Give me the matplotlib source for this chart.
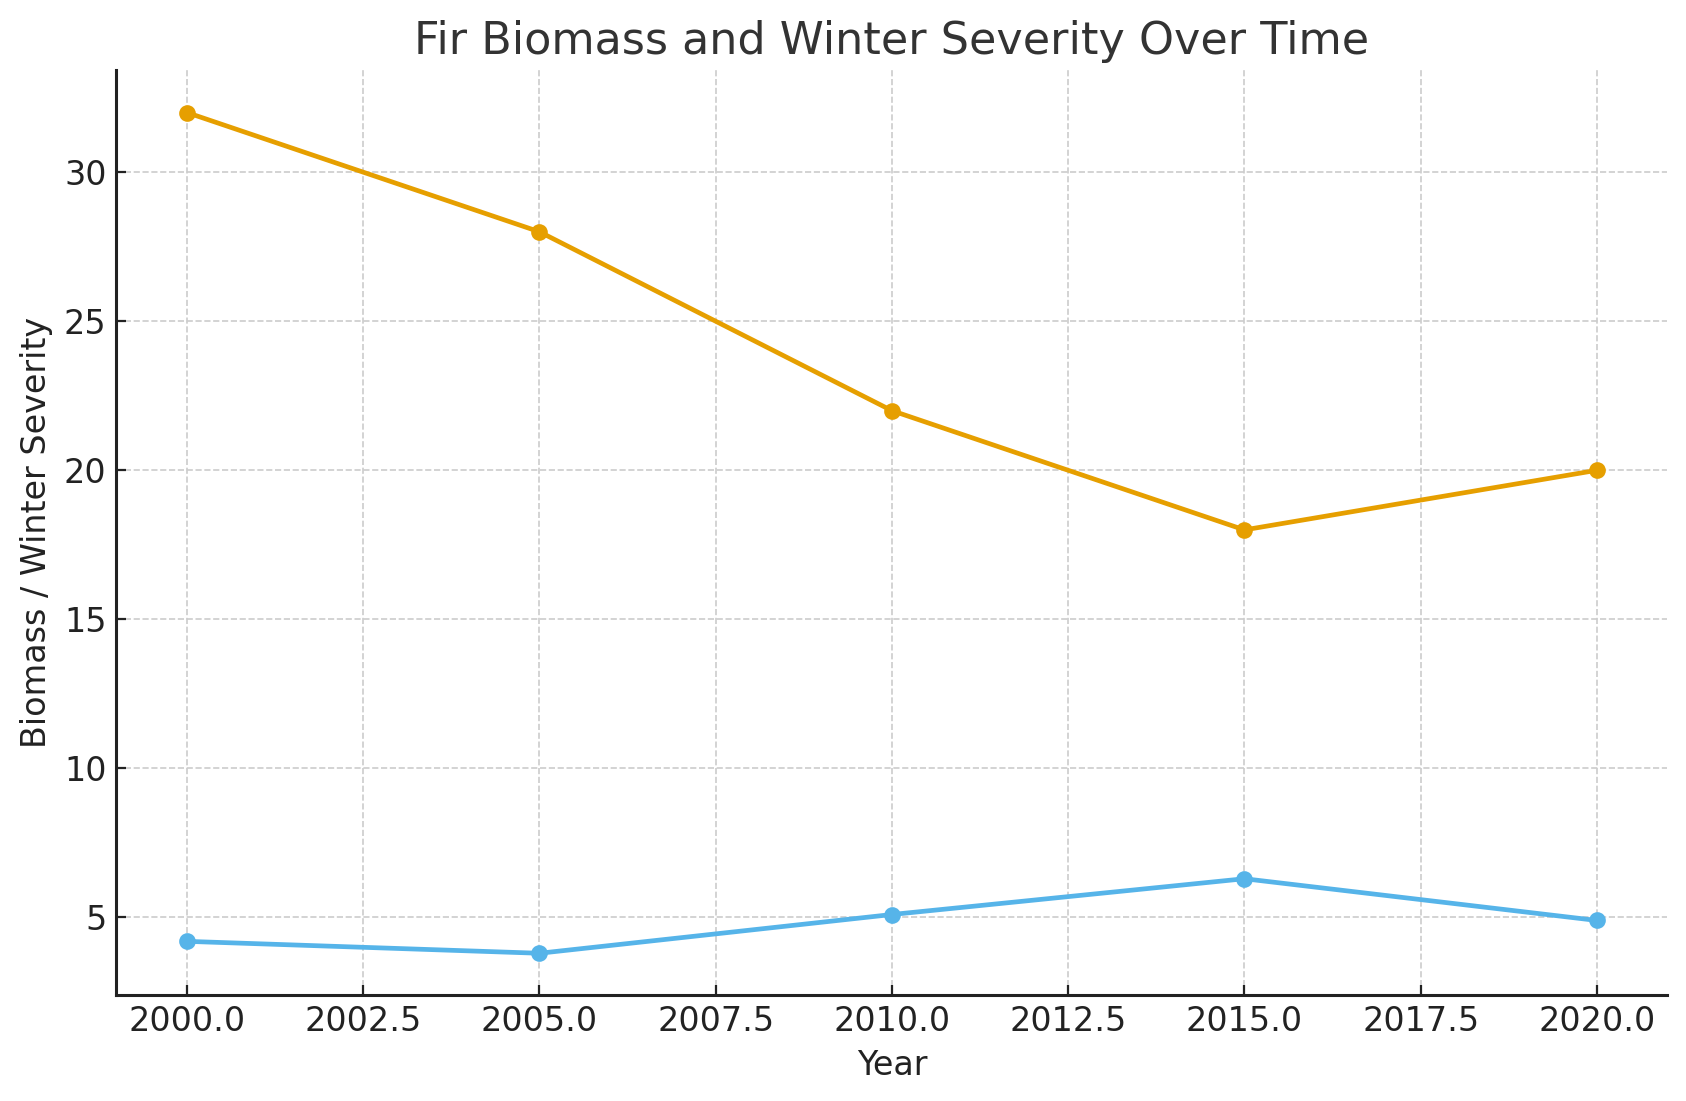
import matplotlib

matplotlib.use("Agg")
import matplotlib.pyplot as plt

YEARS = [2000, 2005, 2010, 2015, 2020]
FIR_BIOMASS = [32, 28, 22, 18, 20]
WINTER_SEVERITY = [4.2, 3.8, 5.1, 6.3, 4.9]


def main() -> None:
    fig, ax = plt.subplots(figsize=(8.43, 5.505), dpi=200)
    ax.plot(YEARS, FIR_BIOMASS, marker="o", color="#E69F00", linewidth=1.7, markersize=5, label="Fir Biomass")
    ax.plot(YEARS, WINTER_SEVERITY, marker="o", color="#56B4E9", linewidth=1.7, markersize=5, label="Winter Severity")

    ax.set_title("Fir Biomass and Winter Severity Over Time", fontsize=16, color="#333333")
    ax.set_xlabel("Year", fontsize=12, color="#222222")
    ax.set_ylabel("Biomass / Winter Severity", fontsize=12, color="#222222")
    ax.tick_params(labelsize=12, colors="#222222", direction="in")

    ax.spines["top"].set_visible(False)
    ax.spines["right"].set_visible(False)
    for side in ("left", "bottom"):
        ax.spines[side].set_linewidth(1.1)
        ax.spines[side].set_color("#222222")
    ax.grid(True, linestyle="--", color="#cccccc", linewidth=0.6)
    ax.set_axisbelow(True)

    fig.subplots_adjust(left=0.069, right=0.989, top=0.936, bottom=0.096)
    fig.savefig("out.png", dpi=200)
    plt.close(fig)


if __name__ == "__main__":
    main()
